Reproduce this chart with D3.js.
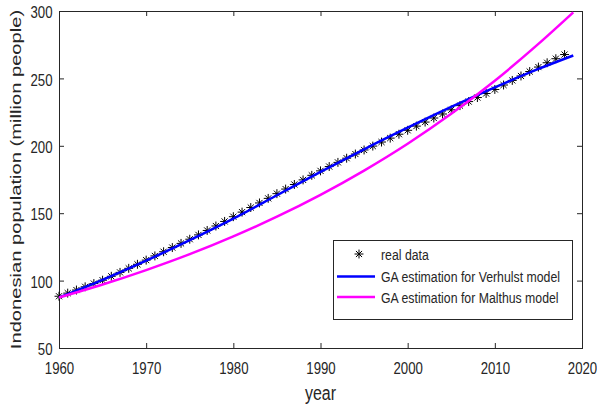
<!DOCTYPE html>
<html>
<head>
<meta charset="utf-8">
<script src="https://cdn.jsdelivr.net/npm/d3@7"></script>
<style>
  body { margin: 0; background: #fff; }
  text { font-family: "Liberation Sans", Arial, sans-serif; fill: #262626; }
</style>
</head>
<body>
<div id="chart"></div>
<script>
// Chart size
const width = 597;
const height = 408;

// Real data: Indonesian population (million people), 1960-2018
const years = [1960, 1961, 1962, 1963, 1964, 1965, 1966, 1967, 1968, 1969,
    1970, 1971, 1972, 1973, 1974, 1975, 1976, 1977, 1978, 1979,
    1980, 1981, 1982, 1983, 1984, 1985, 1986, 1987, 1988, 1989,
    1990, 1991, 1992, 1993, 1994, 1995, 1996, 1997, 1998, 1999,
    2000, 2001, 2002, 2003, 2004, 2005, 2006, 2007, 2008, 2009,
    2010, 2011, 2012, 2013, 2014, 2015, 2016, 2017, 2018];
const population = [88.4, 90.7, 93.0, 95.4, 97.8, 100.3, 103.2, 106.1, 109.1, 112.1,
    115.2, 118.3, 121.4, 124.5, 127.6, 130.7, 133.9, 137.2, 140.5, 143.9,
    147.4, 150.8, 154.2, 157.6, 161.0, 164.5, 167.9, 171.3, 174.7, 178.1,
    181.4, 184.6, 187.7, 190.8, 193.9, 196.9, 199.8, 202.8, 205.7, 208.6,
    211.5, 214.6, 217.6, 220.6, 223.6, 226.7, 229.8, 232.8, 235.8, 238.8,
    241.8, 245.1, 248.5, 251.8, 255.1, 258.4, 261.6, 264.6, 267.7];

// Model curves
const modelYears = [1960, 1965, 1970, 1975, 1980, 1985, 1990, 1995, 2000, 2005, 2010, 2015, 2019];
const verhulst = [87.5, 100.6, 114.8, 130.0, 146.0, 163.3, 180.6, 197.4, 213.4, 228.8, 243.3, 257.0, 267.0];
const malthus = [87.5, 97.1, 107.8, 119.6, 132.8, 147.4, 163.6, 181.6, 201.5, 223.7, 248.3, 275.6, 299.0];

// Ticks and labels
const xTicks = [1960, 1970, 1980, 1990, 2000, 2010, 2020];
const yTicks = [50, 100, 150, 200, 250, 300];
const legendLabels = ["real data", "GA estimation for Verhulst model", "GA estimation for Malthus model"];

const axisColor = "#262626";
const squeeze = 0.8; // text in the picture is horizontally condensed

const x = d3.scaleLinear().domain([1960, 2020]).range([59, 582]);
const y = d3.scaleLinear().domain([50, 300]).range([348, 11]);

const svg = d3.select("#chart")
    .append("svg")
    .attr("width", width)
    .attr("height", height);

// Axes with inward ticks on all four sides
svg.append("g")
    .attr("transform", `translate(0,${y(50)})`)
    .attr("color", axisColor)
    .call(d3.axisBottom(x).tickValues(xTicks).tickFormat(d3.format("d")).tickSize(-5).tickPadding(14))
    .call(g => g.select(".domain").remove())
    .call(g => g.selectAll("text").attr("font-size", 16.5).attr("font-family", null)
        .attr("transform", `scale(${squeeze},1)`));

svg.append("g")
    .attr("transform", `translate(0,${y(300)})`)
    .attr("color", axisColor)
    .call(d3.axisTop(x).tickValues(xTicks).tickFormat("").tickSize(-5))
    .call(g => g.select(".domain").remove());

svg.append("g")
    .attr("transform", `translate(${x(1960)},0)`)
    .attr("color", axisColor)
    .call(d3.axisLeft(y).tickValues(yTicks).tickSize(-5).tickPadding(8.1))
    .call(g => g.select(".domain").remove())
    .call(g => g.selectAll("text").attr("font-size", 16.5).attr("font-family", null)
        .attr("dy", "0.4em")
        .attr("transform", `scale(${squeeze},1)`));

svg.append("g")
    .attr("transform", `translate(${x(2020)},0)`)
    .attr("color", axisColor)
    .call(d3.axisRight(y).tickValues(yTicks).tickFormat("").tickSize(-5))
    .call(g => g.select(".domain").remove());

// Box
svg.append("rect")
    .attr("x", x(1960) + 0.5)
    .attr("y", y(300) + 0.5)
    .attr("width", x(2020) - x(1960))
    .attr("height", y(50) - y(300))
    .attr("fill", "none")
    .attr("stroke", axisColor)
    .attr("stroke-width", 1);

// Axis labels
svg.append("text")
    .attr("transform", `translate(${(x(1960) + x(2020)) / 2},400) scale(0.82,1)`)
    .attr("text-anchor", "middle")
    .attr("font-size", 19.5)
    .text("year");

svg.append("text")
    .attr("transform", `translate(21,${(y(50) + y(300)) / 2}) rotate(-90) scale(1.3,1)`)
    .attr("text-anchor", "middle")
    .attr("font-size", 15.5)
    .text("Indonesian population (million people)");

// Real data stars (plus + times = MATLAB '*')
const plus = d3.symbol(d3.symbolPlus, 28);
const times = d3.symbol(d3.symbolTimes, 26);
const stars = svg.append("g")
    .attr("fill", "none")
    .attr("stroke", "#000")
    .attr("stroke-width", 1);

stars.selectAll("g")
    .data(years.map((yr, i) => ({ yr, v: population[i] })))
    .enter()
    .append("g")
    .attr("transform", d => `translate(${x(d.yr)},${y(d.v)})`)
    .each(function() {
        d3.select(this).append("path").attr("d", plus);
        d3.select(this).append("path").attr("d", times);
    });

// Model curves
const line = d3.line()
    .x(d => x(d[0]))
    .y(d => y(d[1]))
    .curve(d3.curveMonotoneX);

svg.append("path")
    .datum(modelYears.map((yr, i) => [yr, verhulst[i]]))
    .attr("fill", "none")
    .attr("stroke", "#0000ff")
    .attr("stroke-width", 2.5)
    .attr("d", line);

svg.append("path")
    .datum(modelYears.map((yr, i) => [yr, malthus[i]]))
    .attr("fill", "none")
    .attr("stroke", "#ff00ff")
    .attr("stroke-width", 2.5)
    .attr("d", line);

// Legend
const legend = svg.append("g");
legend.append("rect")
    .attr("x", 333.5)
    .attr("y", 240.5)
    .attr("width", 239)
    .attr("height", 79)
    .attr("fill", "#fff")
    .attr("stroke", axisColor)
    .attr("stroke-width", 1);

const rowY = [254, 276.5, 297];
const legendColors = [null, "#0000ff", "#ff00ff"];

legendLabels.forEach((label, i) => {
    if (i === 0) {
        const s = legend.append("g")
            .attr("transform", `translate(359,${rowY[i]})`)
            .attr("fill", "none")
            .attr("stroke", "#000");
        s.append("path").attr("d", plus);
        s.append("path").attr("d", times);
    } else {
        legend.append("line")
            .attr("x1", 337).attr("x2", 375)
            .attr("y1", rowY[i]).attr("y2", rowY[i])
            .attr("stroke", legendColors[i])
            .attr("stroke-width", 2.5);
    }
    legend.append("text")
        .attr("transform", `translate(381,${rowY[i] + 5.5}) scale(0.82,1)`)
        .attr("font-size", 15)
        .text(label);
});
</script>
</body>
</html>
